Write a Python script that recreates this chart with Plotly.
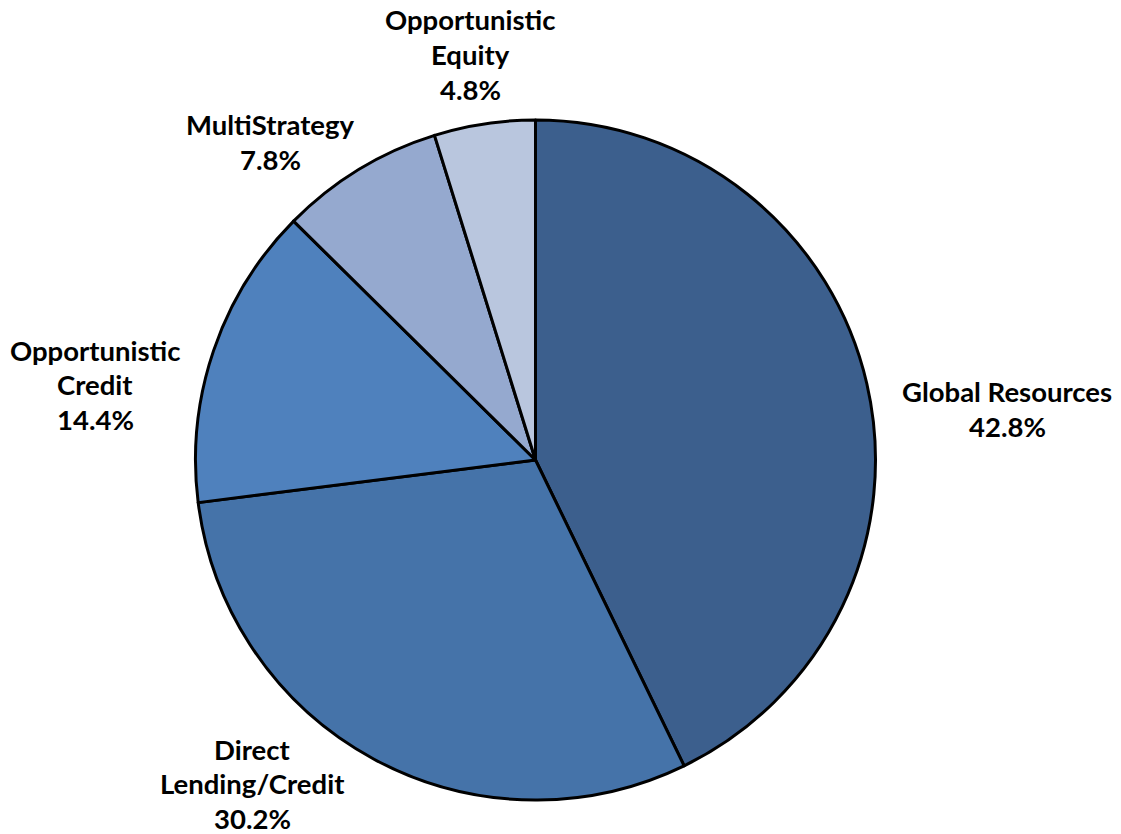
import plotly.graph_objects as go

categories = ["Global Resources", "Direct Lending/Credit", "Opportunistic Credit", "MultiStrategy", "Opportunistic Equity"]
values = [42.8, 30.2, 14.4, 7.8, 4.8]
colors = ["#3C5F8D", "#4573A9", "#4F81BD", "#95A9CF", "#B9C6DE"]

# label lines (text) and their anchor positions in pixels (layout only)
label_lines = [
    ["Global Resources", "42.8%"],
    ["Direct", "Lending/Credit", "30.2%"],
    ["Opportunistic", "Credit", "14.4%"],
    ["MultiStrategy", "7.8%"],
    ["Opportunistic", "Equity", "4.8%"],
]
label_pos = [(1007, 392), (252, 749), (95, 350), (270, 125), (470, 20)]

W, H = 1121, 834
cx, cy, r = 535.5, 460, 340

fig = go.Figure(go.Pie(
    labels=categories, values=values, sort=False, direction="clockwise", rotation=0,
    marker=dict(colors=colors, line=dict(color="black", width=3)),
    textinfo="none", hoverinfo="label+percent",
    domain=dict(x=[(cx - r) / W, (cx + r) / W], y=[1 - (cy + r) / H, 1 - (cy - r) / H]),
))

LS = 34.5
for lines, (x, y) in zip(label_lines, label_pos):
    for i, t in enumerate(lines):
        fig.add_annotation(x=x / W, y=1 - (y + i * LS) / H, xref="paper", yref="paper",
                           text=t, showarrow=False, xanchor="center", yanchor="middle",
                           font=dict(family="Lato", size=27.5, color="black", weight="bold"))

fig.update_layout(width=W, height=H, margin=dict(l=0, r=0, t=0, b=0),
                  showlegend=False, paper_bgcolor="white", plot_bgcolor="white")
fig.write_html("out.html")
